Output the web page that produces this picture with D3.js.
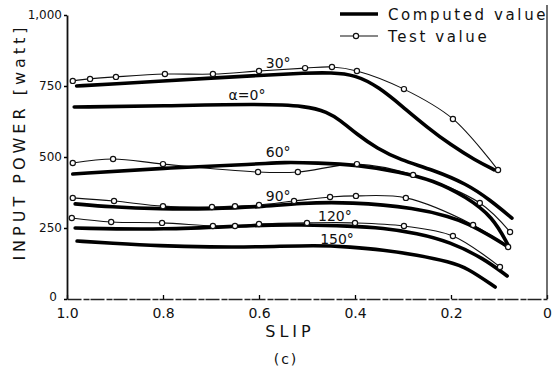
<!doctype html>
<html>
<head>
<meta charset="utf-8">
<script src="https://cdn.jsdelivr.net/npm/d3@7"></script>
<style>
  body { margin: 0; background: #fff; }
  text { font-family: "DejaVu Sans", sans-serif; fill: #111; }
</style>
</head>
<body>
<script>
  // slip / input power [watt]
  var comp0 = [[0.985,676],[0.8,680],[0.6,687],[0.5,680],[0.458,658],[0.431,630],[0.396,580],[0.354,530],[0.306,490],[0.238,455],[0.167,405],[0.119,349],[0.073,285]];
  var comp30 = [[0.98,750],[0.9,757],[0.8,768],[0.7,778],[0.6,787],[0.5,796],[0.45,797],[0.4,790],[0.35,746],[0.3,676],[0.25,605],[0.2,542],[0.15,489],[0.11,455]];
  var comp60 = [[0.988,440],[0.8,461],[0.6,475],[0.55,482],[0.479,479],[0.396,472],[0.306,447],[0.238,419],[0.167,359],[0.113,289],[0.081,190]];
  var comp90 = [[0.983,335],[0.91,324],[0.806,317],[0.702,317],[0.598,324],[0.515,338],[0.41,342],[0.271,320],[0.202,289],[0.167,268],[0.113,218],[0.081,183]];
  var comp120 = [[0.983,250],[0.802,243],[0.598,261],[0.515,261],[0.41,257],[0.342,250],[0.271,232],[0.202,201],[0.133,144],[0.083,81]];
  var comp150 = [[0.979,204],[0.91,197],[0.806,187],[0.702,183],[0.598,183],[0.479,190],[0.41,183],[0.342,173],[0.271,155],[0.202,130],[0.167,110],[0.108,42]];

  var test30 = [[0.988,768],[0.952,775],[0.898,782],[0.796,792],[0.696,792],[0.6,803],[0.504,813],[0.448,817],[0.396,803],[0.298,739],[0.196,634],[0.102,454]];
  var test60 = [[0.988,479],[0.904,493],[0.8,475],[0.602,447],[0.519,447],[0.396,475],[0.279,437],[0.14,338],[0.077,236]];
  var test90 = [[0.988,356],[0.902,345],[0.8,327],[0.698,324],[0.65,327],[0.6,331],[0.527,345],[0.452,359],[0.398,363],[0.294,356],[0.154,261],[0.081,183]];
  var test120 = [[0.99,285],[0.908,271],[0.802,268],[0.696,257],[0.65,257],[0.6,264],[0.5,268],[0.4,268],[0.298,257],[0.196,222],[0.098,113]];

  var xTicks = [1, 0.8, 0.6, 0.4, 0.2, 0];
  var xTickLabels = ["1.0", "0.8", "0.6", "0.4", "0.2", "0"];
  var yTicks = [0, 250, 500, 750, 1000];
  var yTickLabels = ["0", "250", "500", "750", "1,000"];

  var width = 560, height = 370;
  var svg = d3.select('body').append('svg')
      .attr('width', width)
      .attr('height', height);

  var x = d3.scaleLinear().domain([1, 0]).range([67, 547]);
  var y = d3.scaleLinear().domain([0, 1000]).range([299, 15]);

  // axes
  var xAxis = d3.axisBottom(x).tickValues(xTicks)
      .tickFormat(function (d, i) { return xTickLabels[i]; })
      .tickSizeInner(-4).tickSizeOuter(0).tickPadding(9);
  var gx = svg.append('g').attr('transform', 'translate(0,299)').call(xAxis);
  gx.select('.domain').attr('stroke', '#222').attr('stroke-width', 1.6).attr('stroke-dasharray', '14,2,6,1');
  gx.selectAll('text').attr('font-size', 14).attr('fill', '#111').attr('font-family', '"DejaVu Sans", sans-serif');
  gx.selectAll('.tick line').attr('stroke-width', 1.3);

  var yAxis = d3.axisLeft(y).tickValues(yTicks)
      .tickFormat(function (d, i) { return yTickLabels[i]; })
      .tickSizeInner(3).tickSizeOuter(0).tickPadding(2);
  var gy = svg.append('g').attr('transform', 'translate(67,0)').call(yAxis);
  gy.select('.domain').attr('stroke', '#111').attr('stroke-width', 1.8);
  gy.selectAll('text').attr('font-size', 12).attr('fill', '#111').attr('font-family', '"DejaVu Sans", sans-serif');
  gy.selectAll('.tick line').attr('stroke-width', 1.5);
  gy.selectAll('.tick text').filter(function (d) { return d === 0; }).attr('dy', '0.1em').attr('x', -10);

  // right frame line
  svg.append('line')
      .attr('x1', x(0)).attr('x2', x(0))
      .attr('y1', 5).attr('y2', y(0))
      .attr('stroke', '#222').attr('stroke-width', 1.3);

  var testLine = d3.line()
      .x(function (d) { return x(d[0]); })
      .y(function (d) { return y(d[1]); })
      .curve(d3.curveCatmullRom.alpha(0.5));
  var compLine = d3.line()
      .x(function (d) { return x(d[0]); })
      .y(function (d) { return y(d[1]); })
      .curve(d3.curveBasis);

  var computed = [comp0, comp30, comp60, comp90, comp120, comp150];
  var tests = [test30, test60, test90, test120];

  svg.selectAll('path.test').data(tests).enter().append('path')
      .attr('class', 'test')
      .attr('d', testLine)
      .attr('fill', 'none')
      .attr('stroke', '#111')
      .attr('stroke-width', 1.1);

  svg.selectAll('path.comp').data(computed).enter().append('path')
      .attr('class', 'comp')
      .attr('d', compLine)
      .attr('fill', 'none')
      .attr('stroke', '#000')
      .attr('stroke-width', 3.6)
      .attr('stroke-linecap', 'round');

  tests.forEach(function (s) {
    svg.append('g').selectAll('circle').data(s).enter().append('circle')
        .attr('cx', function (d) { return x(d[0]); })
        .attr('cy', function (d) { return y(d[1]); })
        .attr('r', 2.6)
        .attr('fill', '#fff')
        .attr('stroke', '#111')
        .attr('stroke-width', 1.2);
  });

  // curve labels
  var labels = [
    {t: '30°', s: 0.56, v: 815},
    {t: 'α=0°', s: 0.625, v: 700},
    {t: '60°', s: 0.56, v: 500},
    {t: '90°', s: 0.56, v: 345},
    {t: '120°', s: 0.442, v: 273},
    {t: '150°', s: 0.4375, v: 192}
  ];
  svg.selectAll('text.lab').data(labels).enter().append('text')
      .attr('class', 'lab')
      .attr('x', function (d) { return x(d.s); })
      .attr('y', function (d) { return y(d.v); })
      .attr('text-anchor', 'middle')
      .attr('font-size', 14)
      .text(function (d) { return d.t; });

  // legend
  svg.append('line').attr('x1', 340).attr('x2', 378).attr('y1', 14).attr('y2', 14)
      .attr('stroke', '#000').attr('stroke-width', 3.6);
  svg.append('line').attr('x1', 340).attr('x2', 378).attr('y1', 36).attr('y2', 36)
      .attr('stroke', '#111').attr('stroke-width', 1.1);
  svg.append('circle').attr('cx', 356).attr('cy', 36).attr('r', 2.6)
      .attr('fill', '#fff').attr('stroke', '#111').attr('stroke-width', 1.2);
  svg.append('text').attr('x', 388).attr('y', 20).attr('font-size', 15)
      .attr('letter-spacing', 2.6).text('Computed value');
  svg.append('text').attr('x', 388).attr('y', 42).attr('font-size', 15)
      .attr('letter-spacing', 2.6).text('Test  value');

  // axis titles
  svg.append('text').attr('x', 290).attr('y', 337).attr('text-anchor', 'middle')
      .attr('font-size', 16).attr('letter-spacing', 4).text('SLIP');
  svg.append('text').attr('x', 286).attr('y', 364).attr('text-anchor', 'middle')
      .attr('font-size', 14).attr('letter-spacing', 2).text('(c)');
  svg.append('text')
      .attr('transform', 'translate(25,142) rotate(-90)')
      .attr('text-anchor', 'middle')
      .attr('font-size', 16).attr('letter-spacing', 4)
      .text('INPUT  POWER  [watt]');
</script>
</body>
</html>
